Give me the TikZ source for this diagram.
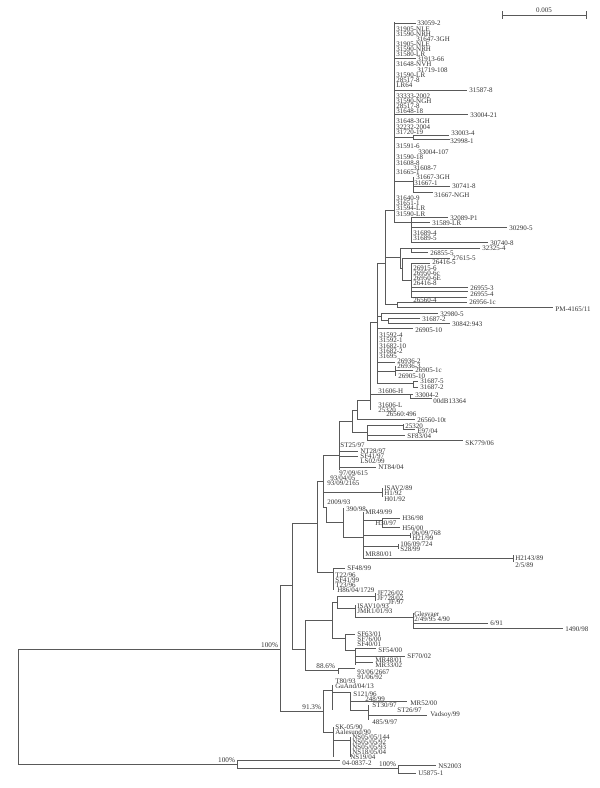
\documentclass[tikz,border=0pt]{standalone}
\usepackage{fontspec}
\setmainfont{Liberation Serif}
\newcommand\trH[3]{\draw[br] (#2,#1) -- (#3,#1);}
\newcommand\trV[3]{\draw[br] (#1,#2) -- (#1,#3);}
\newcommand\trL[3]{\node[lbl] at (#1,#2) {#3};}
\begin{document}
\begin{tikzpicture}[x=0.5pt,y=-0.5pt,
  br/.style={draw=black!65, line width=0.45pt},
  lbl/.style={anchor=west, inner sep=0pt, font=\fontsize{3.5}{4}\selectfont, text=black!80},
  bs/.style={anchor=south east, inner sep=0.3pt, font=\fontsize{3.6}{4}\selectfont, text=black!80}]
\useasboundingbox (0,0) rectangle (600,788);
% scale bar
\draw[br] (502,15) -- (586,15); \draw[br] (502,11)--(502,19); \draw[br] (586,11)--(586,19);
\node[lbl,anchor=south] at (544,13) {0.005};
% top clade
\trV{394}{22}{222}
\trH{23}{394}{416} \trL{417}{23}{33059-2}
\trL{396}{29}{31905-NLE}
\trL{396}{34}{31590-NRH}
\trL{416}{39}{31647-3GH}
\trL{396}{44}{31905-NLE}
\trL{396}{49}{31590-NRH}
\trL{396}{54}{31580-LR}
\trH{58}{394}{416}\trL{417}{59}{31913-66}
\trL{396}{64}{31648-NVH}
\trL{417}{70}{31719-108}
\trL{396}{75}{31590-LR}
\trL{396}{80}{28517-8}
\trL{396}{85}{LR64}
\trH{90}{394}{467}\trL{469}{90}{31587-8}
\trL{396}{96}{33333-2002}
\trL{396}{101}{31590-NGH}
\trL{396}{106}{28517-8}
\trL{396}{111}{31648-18}
\trH{114}{394}{468}\trL{470}{115}{33004-21}
\trL{396}{121}{31648-3GH}
\trL{396}{127}{32232-2004}
\trL{396}{132}{31720-19}
\trH{137}{394}{413}\trV{413}{135}{139}\trH{135}{413}{449}\trH{139}{413}{450}
\trL{451}{133}{33003-4}\trL{450}{141}{32998-1}
\trL{396}{146}{31591-6}
\trL{418}{152}{33004-107}
\trL{396}{157}{31590-18}
\trL{396}{163}{31608-8}
\trL{413}{168}{31608-7}
\trL{396}{172}{31665-1}
\trH{181}{394}{413}\trV{413}{177}{192}
\trL{416}{177}{31667-3GH}
\trL{414}{183}{31667-1}
\trH{186}{413}{450}\trL{452}{186}{30741-8}
\trH{192}{413}{433}\trL{434}{195}{31667-NGH}
\trL{396}{198}{31640-9}
\trL{396}{203}{31651-1}
\trL{396}{208}{31594-LR}
\trL{396}{214}{31590-LR}
\trH{222}{394}{411}\trV{411}{217}{242}
\trH{217}{411}{448}\trL{450}{218}{32089-P1}
\trH{222}{411}{430}\trL{432}{223}{31589-LR}
\trH{227}{411}{507}\trL{509}{228}{30290-5}
\trL{413}{233}{31689-4}
\trL{413}{238}{31689-5}
\trH{242}{411}{488}\trL{490}{243}{30740-8}
% x385 node
\trH{210}{385}{394}\trV{385}{210}{304}
\trH{257}{385}{400}\trV{400}{248}{268}
\trH{248}{400}{411}\trV{411}{248}{252}\trH{248}{411}{480}\trL{482}{248}{32325-4}\trH{252}{411}{428}\trL{430}{253}{26855-5}
\trH{268}{400}{402}\trV{402}{258}{280}
\trH{258}{402}{450}\trL{452}{258}{27615-5}
\trH{280}{402}{411}\trV{411}{263}{297}
\trH{263}{411}{430}\trL{432}{262}{26416-5}
\trL{413}{268}{26915-6}
\trL{413}{273}{26950-6c}
\trL{413}{278}{26950-6E}
\trL{413}{283}{26416-8}
\trH{287}{411}{468}\trL{470}{288}{26955-3}
\trH{291}{411}{468}\trL{470}{294}{26955-4}
\trH{297}{411}{467}\trL{413}{300}{26560-4}
\trH{304}{385}{397}\trV{397}{302}{307}
\trH{302}{397}{467}\trL{469}{302}{26956-1c}
\trH{307}{397}{553}\trL{555}{309}{PM-4165/11}
% x377 node
\trH{263}{377}{385}
\trV{377}{263}{383}
\trH{316}{377}{381}\trV{381}{313}{320}
\trH{313}{381}{438}\trL{440}{314}{32980-5}
\trH{320}{381}{388}\trV{388}{318}{323}
\trH{318}{388}{420}\trL{422}{319}{31687-2}
\trH{323}{388}{450}\trL{452}{324}{30842:943}
\trH{328}{377}{413}\trL{415}{330}{26905-10}
\trL{379}{335}{31592-4}
\trL{379}{340}{31592-1}
\trL{379}{346}{31682-10}
\trL{379}{351}{31682-2}
\trL{379}{356}{31695}
\trH{362}{377}{395}\trL{397}{361}{26936-2}
\trH{371}{377}{395}\trV{395}{366}{376}
\trL{397}{366}{26936-3}
\trH{370}{395}{413}\trL{415}{370}{26905-1c}
\trL{398}{376}{26905-10}
\trH{383}{377}{413}\trV{413}{381}{387}
\trH{381}{413}{418}\trH{387}{413}{418}
\trL{420}{381}{31687-5}\trL{420}{387}{31687-2}
% x370 node
\trH{322}{370}{377}\trV{370}{322}{410}
\trL{378}{391}{31606-H}
\trH{394}{370}{410}\trV{410}{394}{398}
\trH{394}{410}{413}\trL{415}{395}{33004-2}
\trH{398}{410}{432}\trL{433}{401}{00dB13364}
\trL{378}{405}{31606-L}
\trL{378}{410}{25320}
\trL{386}{414}{26560:496}
% x357
\trH{400}{357}{370}\trV{357}{400}{419}
\trH{419}{357}{415}\trL{417}{420}{26560-10t}
% x352
\trH{410}{352}{357}\trV{352}{410}{432}
\trH{432}{352}{367}\trV{367}{425}{440}
\trH{425}{367}{403}\trV{403}{424}{430}
\trL{405}{426}{25320}\trH{429}{403}{415}\trL{417}{431}{E97/04}
\trH{435}{367}{405}\trL{407}{436}{SF83/04}
\trH{440}{367}{463}\trL{465}{443}{SK779/06}
% x339
\trH{421}{339}{352}\trV{339}{421}{470}
\trL{340}{445}{ST25/97}
\trH{451}{339}{358}\trL{360}{451}{NT28/97}
\trH{456}{339}{358}\trL{360}{456}{SF41/97}
\trL{360}{461}{LS02/99}
\trH{467}{339}{376}\trL{378}{467}{NT84/04}
% x323
\trH{455}{323}{339}\trV{323}{455}{507}
\trL{339}{473}{97/09/615}
\trL{330}{478}{93/04/05}
\trL{327}{483}{93/09/2165}
\trH{492}{323}{382}\trV{382}{488}{497}
\trL{384}{488}{ISAV2/89}\trL{384}{493}{H1/92}\trL{384}{499}{H01/92}
\trL{327}{502}{2009/93}
\trH{507}{323}{326}\trV{326}{507}{522}
\trH{522}{326}{343}\trV{343}{508}{537}
\trL{346}{509}{390/98}
\trH{537}{343}{363}\trV{363}{512}{558}
\trL{365}{512}{MR49/99}
\trH{520}{363}{382}\trV{382}{518}{527}
\trH{518}{382}{400}\trL{402}{518}{H36/98}
\trL{375}{523}{H30/97}
\trH{527}{382}{400}\trL{402}{528}{H56/00}
\trH{535}{363}{410}\trV{410}{533}{538}\trL{412}{533}{06/09/768}\trL{412}{538}{H21/99}
\trH{546}{363}{398}\trV{398}{544}{549}\trL{400}{544}{106/09/724}\trL{400}{549}{S28/99}
\trL{365}{554}{MR80/01}
\trH{558}{363}{513}\trV{513}{555}{562}\trL{515}{558}{H2143/89}\trL{515}{565}{2/5/89}
% x317
\trH{481}{317}{323}\trV{317}{481}{572}
\trH{572}{317}{333}\trV{333}{568}{590}
\trH{568}{333}{345}\trL{347}{568}{SF48/99}
\trL{335}{575}{T22/96}\trL{335}{580}{SF41/99}\trL{335}{585}{T23/96}\trL{337}{590}{H86/04/1729}
% x292
\trH{523}{292}{317}\trV{292}{523}{649}
\trH{649}{292}{305}\trV{305}{620}{670}
\trH{620}{305}{332}\trV{332}{602}{638}
\trH{602}{332}{337}\trV{337}{596}{608}
\trH{596}{337}{375}\trV{375}{593}{601}
\trL{377}{593}{JF726/02}\trL{377}{598}{JF728/02}\trL{388}{602}{JF/97}
\trH{608}{337}{355}\trV{355}{605}{617}
\trL{357}{606}{ISAV10/93}\trL{357}{611}{JMR1/01/93}
\trH{617}{355}{413}\trV{413}{613}{628}
\trL{414}{614}{Glesvaer}\trL{414}{619}{2/49/95 4/90}
\trH{623}{413}{488}\trL{490}{623}{6/91}
\trH{628}{413}{563}\trL{565}{629}{1490/98}
\trH{638}{332}{345}\trV{345}{634}{650}
\trH{634}{345}{355}\trL{357}{634}{SF63/01}
\trL{357}{639}{SF76/00}
\trL{357}{644}{SF40/01}
\trH{650}{345}{355}\trV{355}{648}{665}
\trH{648}{355}{376}\trL{378}{650}{SF54/00}
\trH{656}{355}{405}\trL{407}{656}{SF70/02}
\trH{662}{355}{373}\trL{375}{660}{MR48/01}\trL{375}{665}{MR33/02}
% 88.6
\trH{670}{305}{338}\trV{338}{668}{674}\trH{668}{338}{355}
\node[bs] at (336,670) {88.6\%};
\trL{357}{672}{93/06/2667}\trL{357}{677}{91/06/92}
% x280 node
\trH{649}{18}{280}\trV{280}{585}{711}
\trH{585}{280}{292}
\node[bs] at (279,649) {100\%};
\trH{711}{280}{323}
\node[bs] at (322,711) {91.3\%};
\trV{323}{690}{732}
\trH{690}{323}{332}\trV{332}{685}{710}
\trL{335}{681}{T80/93}\trL{335}{686}{GuAnd/04/13}
\trH{692}{332}{350}\trV{350}{692}{710}
\trL{353}{694}{S121/96}
\trL{365}{699}{248/99}
\trH{701}{350}{407}\trL{410}{703}{MR52/00}
\trH{710}{350}{368}\trV{368}{705}{720}
\trL{372}{705}{ST30/97}
\trL{397}{710}{ST26/97}
\trH{715}{368}{427}\trL{430}{715}{Vadsoy/99}
\trL{372}{722}{485/9/97}
\trH{732}{323}{333}\trV{333}{727}{757}
\trL{335}{727}{SK-05/90}\trL{335}{732}{Aalesund/90}
\trH{740}{333}{350}\trV{350}{737}{757}
\trL{352}{737}{NS05/05/144}\trL{352}{742}{NS05/05/92}\trL{352}{747}{NS05/05/93}\trL{352}{752}{NS18/05/04}\trL{350}{757}{NS19/04}
% root
\trV{18}{649}{764}
\trH{764}{18}{237}\trV{237}{760}{768}
\node[bs] at (236,764) {100\%};
\trH{760}{237}{340}\trL{342}{763}{04-0837-2}
\trH{768}{237}{398}\trV{398}{765}{773}
\node[bs] at (397,768) {100\%};
\trH{765}{398}{436}\trL{438}{766}{NS2003}
\trH{773}{398}{416}\trL{418}{773}{U5875-1}
\end{tikzpicture}
\end{document}
